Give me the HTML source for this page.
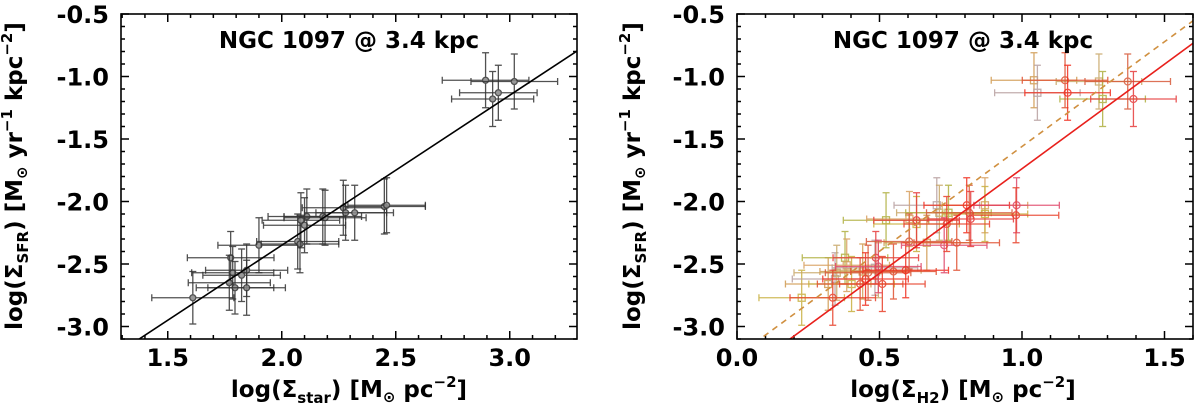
<!DOCTYPE html>
<html><head><meta charset="utf-8">
<style>
html,body{margin:0;padding:0;background:#fff;}
svg{display:block;}
text{font-family:"DejaVu Sans","Liberation Sans",sans-serif;font-weight:bold;fill:#000;}
</style></head>
<body>
<svg id="chart" width="1200" height="416" viewBox="0 0 1200 416" xmlns="http://www.w3.org/2000/svg">
<g id="left"></g>
<g id="right"></g>
</svg>
<script>
// ---- Left panel data: log Sigma_star vs log Sigma_SFR ----
const leftX = [1.61,1.776,1.785,1.77,1.795,1.824,1.846,1.846,1.90,2.07,2.08,2.084,2.10,2.11,2.18,2.19,2.27,2.28,2.32,2.45,2.46,2.894,2.925,2.95,3.02];
const leftY = [-2.77,-2.45,-2.57,-2.65,-2.69,-2.59,-2.55,-2.69,-2.35,-2.32,-2.34,-2.15,-2.19,-2.12,-2.12,-2.13,-2.05,-2.09,-2.09,-2.04,-2.03,-1.03,-1.18,-1.13,-1.04];
const leftXErr = [0.18,0.19,0.18,0.18,0.17,0.17,0.18,0.17,0.18,0.18,0.17,0.17,0.18,0.17,0.17,0.18,0.18,0.18,0.17,0.18,0.17,0.19,0.18,0.17,0.19];
const leftYErr = [0.21,0.21,0.21,0.22,0.21,0.21,0.21,0.22,0.22,0.22,0.23,0.22,0.22,0.22,0.22,0.22,0.22,0.22,0.22,0.22,0.22,0.22,0.22,0.22,0.22];
const leftFit = [1.2, -4.75]; // slope, intercept
const leftXTicks = [1.5,2.0,2.5,3.0];
const leftXTickLabels = ["1.5","2.0","2.5","3.0"];
const yTicks = [-3.0,-2.5,-2.0,-1.5,-1.0,-0.5];
const yTickLabels = ["-3.0","-2.5","-2.0","-1.5","-1.0","-0.5"];

// ---- Right panel data: log Sigma_H2 vs log Sigma_SFR ----
const redX = [0.336,0.432,0.451,0.46,0.487,0.496,0.51,0.549,0.592,0.604,0.63,0.727,0.736,0.771,0.806,0.815,0.82,0.981,0.979,1.151,1.16,1.371,1.391];
const redY = [-2.77,-2.66,-2.62,-2.57,-2.45,-2.52,-2.66,-2.56,-2.55,-2.32,-2.15,-2.35,-2.18,-2.33,-2.03,-2.09,-2.14,-2.03,-2.11,-1.03,-1.13,-1.04,-1.18];
const sqX = [0.227,0.32,0.344,0.35,0.379,0.385,0.402,0.441,0.484,0.496,0.523,0.605,0.63,0.666,0.701,0.71,0.742,0.87,0.87,1.042,1.054,1.27,1.283];
const sqY = [-2.77,-2.66,-2.62,-2.57,-2.45,-2.51,-2.66,-2.56,-2.53,-2.55,-2.15,-2.14,-2.18,-2.33,-2.03,-2.09,-2.09,-2.03,-2.10,-1.03,-1.13,-1.04,-1.18];
const rightXErr = [0.15,0.15,0.15,0.15,0.15,0.15,0.15,0.15,0.15,0.15,0.15,0.15,0.15,0.15,0.15,0.15,0.15,0.15,0.15,0.15,0.15,0.15,0.15];
const rightYErr = [0.22,0.21,0.21,0.22,0.21,0.21,0.22,0.22,0.22,0.22,0.22,0.22,0.22,0.22,0.22,0.22,0.22,0.22,0.22,0.22,0.22,0.22,0.22];
const redFit = [1.673, -3.411];
const dashFit = [1.676, -3.236];
const rightXTicks = [0.0,0.5,1.0,1.5];
const rightXTickLabels = ["0.0","0.5","1.0","1.5"];

const NS = "http://www.w3.org/2000/svg";
function mk(parent, tag, attrs){
  const e = document.createElementNS(NS, tag);
  for (const k in attrs) e.setAttribute(k, attrs[k]);
  parent.appendChild(e);
  return e;
}
const redCols = ["#e8402a","#e05030","#f03020","#d85a3a","#e63c3c","#e0486a"];
const sqCols = ["#c8b040","#d09a50","#b8a0a0","#c8a868","#b0b040","#d8a060"];

function panel(g, x0, x1, xmin, xmax, xTicks, xLabels, xMinorStep, y0, y1, ymin, ymax){
  const sx = v => x0 + (v - xmin) / (xmax - xmin) * (x1 - x0);
  const sy = v => y1 - (v - ymin) / (ymax - ymin) * (y1 - y0);
  // ticks
  const tg = mk(g, "g", {});
  
  
  for (let v = Math.ceil(xmin / xMinorStep - 1e-6) * xMinorStep; v <= xmax + 1e-6; v += xMinorStep) {
    const major = xTicks.some(t => Math.abs(t - v) < 1e-6);
    const L = major ? 8 : 4, px = sx(v);
    mk(tg, "line", {x1:px, y1:y1, x2:px, y2:y1-L, stroke:"#000", "stroke-width":1.5});
    mk(tg, "line", {x1:px, y1:y0, x2:px, y2:y0+L, stroke:"#000", "stroke-width":1.5});
  }
  for (let v = Math.ceil(ymin / 0.1 - 1e-6) * 0.1; v <= ymax + 1e-6; v += 0.1) {
    const major = yTicks.some(t => Math.abs(t - v) < 1e-6);
    const L = major ? 8 : 4, py = sy(v);
    mk(tg, "line", {x1:x0, y1:py, x2:x0+L, y2:py, stroke:"#000", "stroke-width":1.5});
    mk(tg, "line", {x1:x1, y1:py, x2:x1-L, y2:py, stroke:"#000", "stroke-width":1.5});
  }
  xTicks.forEach((t, i) => {
    const tx = mk(g, "text", {x:sx(t), y:366, "font-size":24, "text-anchor":"middle"});
    
    
    tx.textContent = xLabels[i];
  });
  yTicks.forEach((t, i) => {
    const tx = mk(g, "text", {x:x0-12, y:sy(t)+9, "font-size":24, "text-anchor":"end"});
    
    
    tx.textContent = yTickLabels[i];
  });
  return {sx, sy};
}

function errPts(g, xs, ys, xe, ye, sx, sy, colFn, marker, name){
  xs.forEach((x, i) => {
    const c = colFn(i);
    const pg = mk(g, "g", {stroke:c, "stroke-width":1.3, fill:"none", opacity:0.85});
    
    
    const px = sx(x), py = sy(ys[i]);
    const xl = sx(x - xe[i]), xr = sx(x + xe[i]);
    const yt = sy(ys[i] + ye[i]), yb = sy(ys[i] - ye[i]);
    mk(pg, "line", {x1:xl, y1:py, x2:xr, y2:py});
    mk(pg, "line", {x1:px, y1:yt, x2:px, y2:yb});
    mk(pg, "line", {x1:xl, y1:py-3.5, x2:xl, y2:py+3.5});
    mk(pg, "line", {x1:xr, y1:py-3.5, x2:xr, y2:py+3.5});
    mk(pg, "line", {x1:px-3.5, y1:yt, x2:px+3.5, y2:yt});
    mk(pg, "line", {x1:px-3.5, y1:yb, x2:px+3.5, y2:yb});
    if (marker === "circle") mk(pg, "circle", {cx:px, cy:py, r:3.5});
    else if (marker === "filled") mk(pg, "circle", {cx:px, cy:py, r:3, fill:"#888"});
    else mk(pg, "rect", {x:px-3.5, y:py-3.5, width:7, height:7});
  });
}

function fitLine(g, fit, xmin, xmax, sx, sy, attrs, name, clip){
  const l = mk(g, "line", Object.assign({x1:sx(xmin), y1:sy(fit[0]*xmin+fit[1]), x2:sx(xmax), y2:sy(fit[0]*xmax+fit[1]), "clip-path":"url(#"+clip+")"}, attrs));
  
  
}

function title(g, cx, txt){
  const t = mk(g, "text", {x:cx, y:48, "font-size":23, "text-anchor":"middle"});
  
  
  t.textContent = txt;
}

function ylabel(g, cx){
  const t = mk(g, "text", {x:0, y:0, "font-size":23, "text-anchor":"middle", transform:"translate("+cx+",176) rotate(-90)"});
  
  
  t.innerHTML = 'log(Σ<tspan font-size="15" dy="6">SFR</tspan><tspan dy="-6">) [M</tspan><tspan font-size="15" dy="5">⊙</tspan><tspan dy="-5"> yr</tspan><tspan font-size="15" dy="-10">−1</tspan><tspan dy="10"> kpc</tspan><tspan font-size="15" dy="-10">−2</tspan><tspan dy="10">]</tspan>';
}
function xlabel(g, cx, sub){
  const t = mk(g, "text", {x:cx, y:397, "font-size":23, "text-anchor":"middle"});
  
  
  t.innerHTML = 'log(Σ<tspan font-size="15" dy="6">'+sub+'</tspan><tspan dy="-6">) [M</tspan><tspan font-size="15" dy="5">⊙</tspan><tspan dy="-5"> pc</tspan><tspan font-size="15" dy="-10">−2</tspan><tspan dy="10">]</tspan>';
}

const svg = document.getElementById("chart");
const defs = mk(svg, "defs", {});
const c1 = mk(defs, "clipPath", {id:"clipL"}); mk(c1, "rect", {x:121, y:14, width:456, height:325});
const c2 = mk(defs, "clipPath", {id:"clipR"}); mk(c2, "rect", {x:737, y:14, width:456, height:325});

// Left
const gL = document.getElementById("left");
const L = panel(gL, 121, 577, 1.295, 3.295, leftXTicks, leftXTickLabels, 0.1, 14, 339, -3.1, -0.5);
const lp = mk(gL, "g", {"clip-path":"url(#clipL)"});


errPts(lp, leftX, leftY, leftXErr, leftYErr, L.sx, L.sy, i => "#333", "filled", "data-point");
fitLine(gL, leftFit, 1.295, 3.295, L.sx, L.sy, {stroke:"#000", "stroke-width":1.6}, "fit-line", "clipL");
title(gL, 349, "NGC 1097 @ 3.4 kpc");
ylabel(gL, 22);
xlabel(gL, 349, "star");
const fL = mk(gL, "rect", {x:121, y:14, width:456, height:325, fill:"none", stroke:"#000", "stroke-width":1.6});



// Right
const gR = document.getElementById("right");
const R = panel(gR, 737, 1193, 0.0, 1.6, rightXTicks, rightXTickLabels, 0.1, 14, 339, -3.1, -0.5);
const rp = mk(gR, "g", {"clip-path":"url(#clipR)"});


errPts(rp, sqX, sqY, rightXErr, rightYErr, R.sx, R.sy, i => sqCols[i % sqCols.length], "square", "square-point");
errPts(rp, redX, redY, rightXErr, rightYErr, R.sx, R.sy, i => redCols[i % redCols.length], "circle", "circle-point");
fitLine(gR, dashFit, 0.0, 1.6, R.sx, R.sy, {stroke:"#d09040", "stroke-width":1.6, "stroke-dasharray":"6,5"}, "dashed-fit-line", "clipR");
fitLine(gR, redFit, 0.0, 1.6, R.sx, R.sy, {stroke:"#e8201c", "stroke-width":1.6}, "red-fit-line", "clipR");
title(gR, 963, "NGC 1097 @ 3.4 kpc");
ylabel(gR, 640);
xlabel(gR, 963, "H2");
const fR = mk(gR, "rect", {x:737, y:14, width:456, height:325, fill:"none", stroke:"#000", "stroke-width":1.6});


</script>
</body></html>
